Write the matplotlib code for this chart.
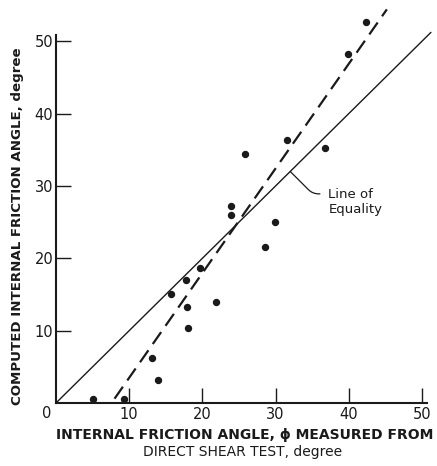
import matplotlib
matplotlib.use("Agg")
import matplotlib.pyplot as plt

plt.rcParams['lines.scale_dashes'] = False
plt.rcParams['font.family'] = ['DejaVu Sans']

# Data
measured_phi = [5.0, 9.3, 13.1, 14.0, 15.7, 17.7, 17.9, 18.1, 19.7, 21.9,
                23.9, 23.9, 25.8, 28.6, 29.9, 31.5, 36.8, 39.9, 42.4]
computed_phi = [0.5, 0.6, 6.2, 3.2, 15.0, 17.0, 13.2, 10.3, 18.6, 14.0,
                27.2, 26.0, 34.4, 21.6, 25.0, 36.4, 35.3, 48.2, 52.7]

equality_x = [0.0, 51.2]
equality_y = [0.0, 51.2]
trend_x = [8.0, 45.2]
trend_y = [0.6, 54.4]

ticks = [10, 20, 30, 40, 50]
ink = '#1a1a1a'

fig = plt.figure(figsize=(4.37, 4.66), dpi=100)
ax = fig.add_axes([56/437, 63/466, 0.871, 0.854])
ax.set_xlim(0, 52)
ax.set_ylim(0, 55)

ax.plot(equality_x, equality_y, color=ink, lw=1.0, clip_on=False)
ax.plot(trend_x, trend_y, color=ink, lw=1.6, dashes=(10.5, 5.5), clip_on=False)
ax.plot(measured_phi, computed_phi, 'o', color=ink, ms=4.3, clip_on=False)

for s in ['top', 'right']:
    ax.spines[s].set_visible(False)
for s in ['left', 'bottom']:
    ax.spines[s].set_linewidth(1.5)
    ax.spines[s].set_color(ink)
ax.spines['left'].set_bounds(0, 50.8)
ax.spines['bottom'].set_bounds(0, 50.7)

ax.set_xticks(ticks)
ax.set_yticks(ticks)
ax.set_xticklabels([str(t) for t in ticks])
ax.set_yticklabels([str(t) for t in ticks])
ax.tick_params(direction='in', length=10.5, width=1.0, color=ink,
               labelsize=10.5, labelcolor=ink)
ax.tick_params(axis='y', pad=2)
ax.tick_params(axis='x', pad=3)
ax.annotate('0', xy=(0, 0), xytext=(-9, -10), textcoords='offset pixels',
            ha='center', va='center', fontsize=10.5, color=ink)

ax.annotate('Line of\nEquality', xy=(32.0, 32.0), xytext=(37.2, 27.8),
            ha='left', va='center', fontsize=9.5, color=ink, linespacing=1.25,
            arrowprops=dict(arrowstyle='-', color=ink, lw=0.9,
                            relpos=(0, 0.78), shrinkA=4, shrinkB=0,
                            connectionstyle='angle,angleA=180,angleB=135,rad=6'))

fig.text(245/437, 1 - 435/466, 'INTERNAL FRICTION ANGLE, \u03d5 MEASURED FROM',
         ha='center', va='center', fontsize=10, fontweight='bold', color=ink)
fig.text(243/437, 1 - 452/466, 'DIRECT SHEAR TEST, degree',
         ha='center', va='center', fontsize=10, color=ink)
fig.text(18/437, 1 - 226/466, 'COMPUTED INTERNAL FRICTION ANGLE, degree',
         ha='center', va='center', rotation=90, fontsize=9.6,
         fontweight='bold', color=ink)

fig.savefig('out.png', dpi=100, facecolor='white')
